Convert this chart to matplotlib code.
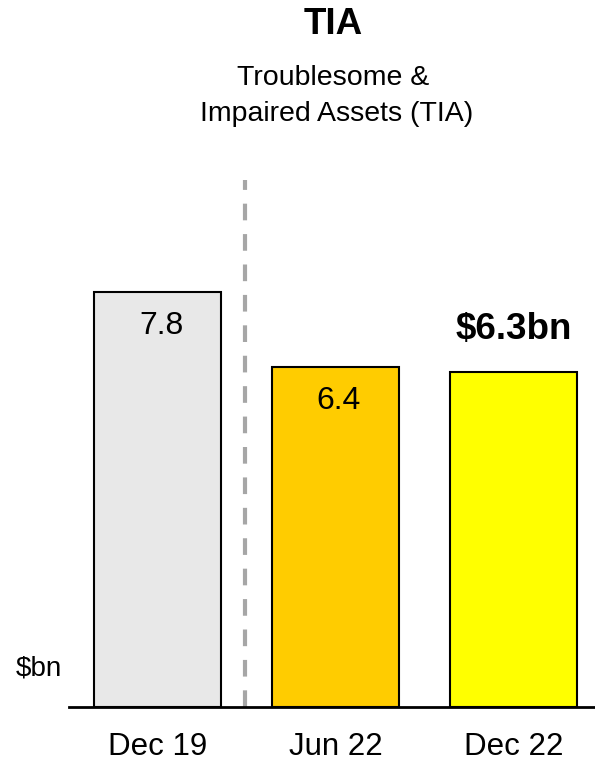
import matplotlib.pyplot as plt

plt.rcParams['font.family'] = ['Liberation Sans', 'DejaVu Sans']

# data
periods = ["Dec 19", "Jun 22", "Dec 22"]
tia = [7.8, 6.4, 6.3]
bar_labels = ["7.8", "6.4", "$6.3bn"]
colors = ["#e8e8e8", "#ffcc00", "#ffff00"]

W, H = 595, 758
fig = plt.figure(figsize=(W / 100, H / 100), dpi=100)

# axes placed in pixel terms: left 69, right 595, bottom 707, top 180
ax = fig.add_axes([69 / W, (H - 707) / H, (595 - 69) / W, (707 - 180) / H])
px_per_unit = 53.2
ax.set_ylim(0, 527 / px_per_unit)
ax.set_xlim(-0.497, 2.458)

x = range(len(periods))
ax.bar(x, tia, width=0.713, color=colors, edgecolor="black", linewidth=1.5, zorder=2)

# value labels
for i, (v, lab) in enumerate(zip(tia, bar_labels)):
    if i == 2:
        ax.text(i, v + 0.8, lab, ha="center", va="center", fontsize=26.5,
                fontweight="bold")
    else:
        ax.text(i + 0.02, v - 0.64, lab, ha="center", va="center", fontsize=23)

# dashed separator between historic and current
ax.plot([0.49, 0.49], [0, 527 / px_per_unit], color="#a6a6a6", lw=3,
        dashes=(4, 3.3), zorder=1, clip_on=False)

for s in ["top", "right", "left"]:
    ax.spines[s].set_visible(False)
ax.spines["bottom"].set_linewidth(2)
ax.set_yticks([])
ax.set_xticks(list(x))
ax.set_xticklabels(periods, fontsize=22.5)
ax.tick_params(axis="x", length=0, pad=18)

fig.text(39 / W, 1 - 668 / H, "$bn", ha="center", va="center", fontsize=20)
fig.text(333 / W, 1 - 24 / H, "TIA", ha="center", va="center", fontsize=26.5,
         fontweight="bold")
fig.text(333 / W, 1 - 78 / H, "Troublesome &", ha="center", va="center", fontsize=20.5)
fig.text(337 / W, 1 - 114 / H, "Impaired Assets (TIA)", ha="center", va="center",
         fontsize=20.5)

fig.savefig("out.png", dpi=100)
